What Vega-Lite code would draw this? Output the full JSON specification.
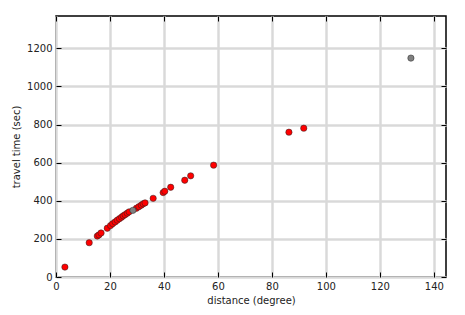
{
  "$schema": "https://vega.github.io/schema/vega-lite/v6.json",
  "autosize": "none",
  "width": 390,
  "height": 261,
  "padding": {"left": 56, "top": 16, "right": 19, "bottom": 38},
  "background": "white",
  "config": {
    "view": {"stroke": "black", "strokeWidth": 1.5},
    "font": "DejaVu Sans",
    "axis": {
      "labelFont": "DejaVu Sans",
      "labelFontSize": 10,
      "labelColor": "#222222",
      "titleFont": "DejaVu Sans",
      "titleFontSize": 10,
      "titleFontWeight": "normal",
      "titleColor": "#222222",
      "domain": false,
      "tickColor": "black",
      "tickWidth": 1,
      "gridColor": "#d9d9d9",
      "gridWidth": 2,
      "gridOpacity": 1
    }
  },
  "data": {
    "values": [
      {"distance": 3.3, "time": 52, "kind": "main"},
      {"distance": 12.3, "time": 180, "kind": "main"},
      {"distance": 15.3, "time": 215, "kind": "main"},
      {"distance": 15.9, "time": 221, "kind": "main"},
      {"distance": 16.7, "time": 231, "kind": "main"},
      {"distance": 19.0, "time": 256, "kind": "main"},
      {"distance": 20.2, "time": 270, "kind": "main"},
      {"distance": 21.0, "time": 280, "kind": "main"},
      {"distance": 21.9, "time": 289, "kind": "main"},
      {"distance": 22.7, "time": 298, "kind": "main"},
      {"distance": 23.5, "time": 306, "kind": "main"},
      {"distance": 24.3, "time": 314, "kind": "main"},
      {"distance": 24.9, "time": 321, "kind": "main"},
      {"distance": 25.6, "time": 327, "kind": "main"},
      {"distance": 26.4, "time": 335, "kind": "main"},
      {"distance": 27.1, "time": 342, "kind": "main"},
      {"distance": 29.8, "time": 361, "kind": "main"},
      {"distance": 30.7, "time": 369, "kind": "main"},
      {"distance": 31.6, "time": 377, "kind": "main"},
      {"distance": 32.3, "time": 384, "kind": "main"},
      {"distance": 33.0, "time": 389, "kind": "main"},
      {"distance": 36.0, "time": 413, "kind": "main"},
      {"distance": 39.7, "time": 443, "kind": "main"},
      {"distance": 40.3, "time": 450, "kind": "main"},
      {"distance": 42.5, "time": 471, "kind": "main"},
      {"distance": 47.7, "time": 508, "kind": "main"},
      {"distance": 49.9, "time": 531, "kind": "main"},
      {"distance": 58.4, "time": 587, "kind": "main"},
      {"distance": 86.3, "time": 760, "kind": "main"},
      {"distance": 91.8, "time": 781, "kind": "main"},
      {"distance": 28.5, "time": 350, "kind": "other"},
      {"distance": 131.5, "time": 1149, "kind": "other"}
    ]
  },
  "resolve": {"axis": {"x": "independent", "y": "independent"}},
  "layer": [
    {
      "mark": {"type": "point", "opacity": 0},
      "encoding": {
        "x": {"field": "distance", "type": "quantitative",
              "scale": {"domain": [0, 144.5], "nice": false, "zero": false},
              "axis": {"orient": "top", "title": null, "labels": false, "grid": true, "tickSize": -5, "values": [0, 20, 40, 60, 80, 100, 120, 140]}},
        "y": {"field": "time", "type": "quantitative",
              "scale": {"domain": [0, 1370], "nice": false, "zero": false},
              "axis": {"orient": "right", "title": null, "labels": false, "grid": true, "tickSize": -5, "values": [0, 200, 400, 600, 800, 1000, 1200]}}
      }
    },
    {
      "mark": {"type": "point", "shape": "circle", "filled": true, "size": 40, "stroke": "#222222", "strokeWidth": 0.5, "opacity": 1},
      "encoding": {
        "x": {"field": "distance", "type": "quantitative",
              "scale": {"domain": [0, 144.5], "nice": false, "zero": false},
              "axis": {"orient": "bottom", "title": "distance (degree)", "format": "d", "grid": true, "tickSize": -5, "values": [0, 20, 40, 60, 80, 100, 120, 140], "labelPadding": 9, "titlePadding": 4, "labelFlush": false}},
        "y": {"field": "time", "type": "quantitative",
              "scale": {"domain": [0, 1370], "nice": false, "zero": false},
              "axis": {"orient": "left", "title": "travel time (sec)", "format": "d", "grid": true, "tickSize": -5, "values": [0, 200, 400, 600, 800, 1000, 1200], "labelPadding": 9, "titlePadding": 5, "labelFlush": false}},
        "fill": {"field": "kind", "type": "nominal", "scale": {"domain": ["main", "other"], "range": ["#ff0000", "#808080"]}, "legend": null},
        "order": {"field": "kind", "sort": "ascending"}
      }
    }
  ]
}
